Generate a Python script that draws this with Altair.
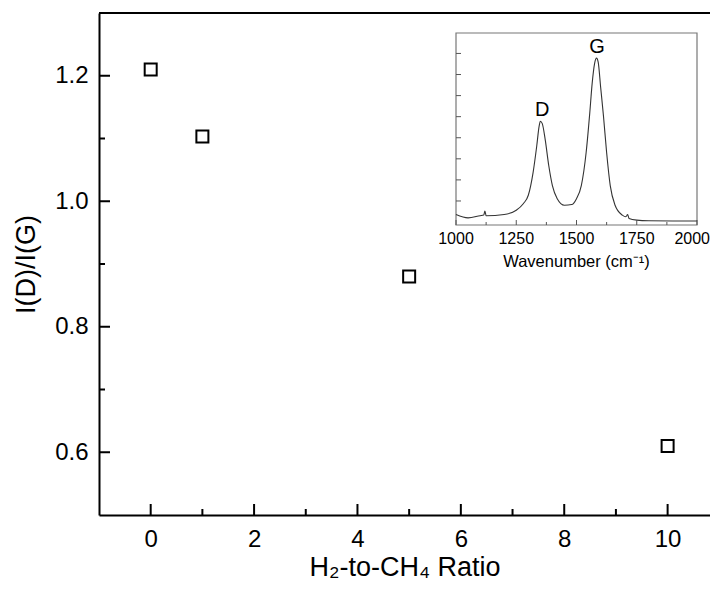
import altair as alt
import pandas as pd

# ---------------- data ----------------
RATIO = [0, 1, 5, 10]
ID_IG = [1.21, 1.103, 0.880, 0.610]

X_MAJOR = [0, 2, 4, 6, 8, 10]
X_MINOR = [1, 3, 5, 7, 9]
Y_MAJOR = [0.6, 0.8, 1.0, 1.2]
Y_MINOR = [0.7, 0.9, 1.1]
X_DOMAIN = [-1, 10.82]
Y_DOMAIN = [0.5, 1.3]

# inset Raman spectrum (arbitrary units)
SPEC_WN = [1000, 1050, 1100, 1115, 1120, 1125, 1200, 1250, 1280, 1300,
           1320, 1335, 1345, 1350, 1358, 1370, 1385, 1400, 1420, 1450,
           1480, 1500, 1520, 1540, 1555, 1565, 1575, 1583, 1590, 1600,
           1612, 1625, 1640, 1660, 1690, 1705, 1712, 1718, 1750, 1800,
           1900, 2000]
SPEC_I = [0.36, 0.20, 0.30, 0.33, 0.52, 0.30, 0.36, 0.56, 0.88, 1.27,
          2.36, 3.61, 4.55, 4.78, 4.67, 3.92, 2.67, 1.73, 1.11, 0.80,
          0.83, 1.11, 1.73, 3.30, 5.17, 6.58, 7.52, 7.78, 7.59, 6.42,
          5.02, 3.30, 1.73, 0.80, 0.33, 0.25, 0.36, 0.17, 0.09, 0.06,
          0.05, 0.05]
PEAK_LABELS = ["D", "G"]
PEAK_WN = [1358, 1585]
PEAK_I = [5.33, 8.3]
INSET_X_DOMAIN = [1000, 2000]
INSET_Y_DOMAIN = [-0.14, 8.97]
INSET_X_MAJOR = [1000, 1250, 1500, 1750, 2000]
INSET_X_MINOR = [1125, 1375, 1625, 1875]
INSET_Y_TICKS = [1, 2, 3, 4, 5, 6, 7, 8]

# ---------------- layout ----------------
W, H = 611, 502
FONT = "Liberation Sans"
IX0, IX1 = 357, 598   # inset x pixel range inside plot
IY0, IY1 = 20, 212    # inset y pixel range (top, bottom)


def xs():
    return alt.Scale(domain=X_DOMAIN, nice=False, zero=False)


def ys():
    return alt.Scale(domain=Y_DOMAIN, nice=False, zero=False)


def ixs():
    return alt.Scale(domain=INSET_X_DOMAIN, range=[IX0, IX1], nice=False, zero=False)


def iys():
    return alt.Scale(domain=INSET_Y_DOMAIN, range=[IY1, IY0], nice=False, zero=False)


pts = pd.DataFrame({"ratio": RATIO, "v": ID_IG})
points = alt.Chart(pts).mark_point(
    shape="square", size=144, filled=False, stroke="black", strokeWidth=2, opacity=1
).encode(
    x=alt.X("ratio:Q", scale=xs(), axis=alt.Axis(
        values=X_MAJOR, format="d", title="H₂-to-CH₄ Ratio", tickSize=0,
        labelPadding=12, titleY=52, titleBaseline="middle")),
    y=alt.Y("v:Q", scale=ys(), axis=alt.Axis(
        values=Y_MAJOR, format=".1f", title="I(D)/I(G)", tickSize=0,
        labelPadding=11, titleX=-73, titleY=H / 2, titleAngle=-90,
        titleAlign="center", titleBaseline="middle")),
)


def xticks(vals, length):
    return alt.Chart(pd.DataFrame({"t": vals})).mark_rule(color="black", strokeWidth=2).encode(
        x=alt.X("t:Q", scale=xs(), axis=None),
        y=alt.value(H), y2=alt.value(H - length))


def yticks(vals, length):
    return alt.Chart(pd.DataFrame({"t": vals})).mark_rule(color="black", strokeWidth=2).encode(
        y=alt.Y("t:Q", scale=ys(), axis=None),
        x=alt.value(0), x2=alt.value(length))


top_line = alt.Chart(pd.DataFrame({"a": [0]})).mark_rule(color="black", strokeWidth=2).encode(
    y=alt.value(0), x=alt.value(0), x2=alt.value(W))

# ---------------- inset ----------------
spec = pd.DataFrame({"wn": SPEC_WN, "i": SPEC_I})
line = alt.Chart(spec).mark_line(color="#333333", strokeWidth=1.1, interpolate="monotone").encode(
    x=alt.X("wn:Q", scale=ixs(), axis=None),
    y=alt.Y("i:Q", scale=iys(), axis=None))

frame = alt.Chart(pd.DataFrame({"x0": [INSET_X_DOMAIN[0]], "x1": [INSET_X_DOMAIN[1]],
                                "y0": [INSET_Y_DOMAIN[0]], "y1": [INSET_Y_DOMAIN[1]]})).mark_rect(
    fillOpacity=0, stroke="#777777", strokeWidth=1.2).encode(
    x=alt.X("x0:Q", scale=ixs(), axis=None), x2="x1:Q",
    y=alt.Y("y0:Q", scale=iys(), axis=None), y2="y1:Q")


def ixticks(vals, length):
    return alt.Chart(pd.DataFrame({"t": vals})).mark_rule(color="#555555", strokeWidth=1).encode(
        x=alt.X("t:Q", scale=ixs(), axis=None),
        y=alt.value(IY1), y2=alt.value(IY1 - length))


iyticks = alt.Chart(pd.DataFrame({"t": INSET_Y_TICKS})).mark_rule(color="#555555", strokeWidth=1).encode(
    y=alt.Y("t:Q", scale=iys(), axis=None),
    x=alt.value(IX0), x2=alt.value(IX0 + 5))


def ilabel_layer(vals, align, dx):
    return alt.Chart(pd.DataFrame({"t": vals, "s": [str(v) for v in vals]})).mark_text(
        font=FONT, fontSize=16, color="black", baseline="middle", align=align, dx=dx).encode(
        x=alt.X("t:Q", scale=ixs(), axis=None), y=alt.value(IY1 + 14), text="s:N")


ilabels_main = ilabel_layer(INSET_X_MAJOR[:-1], "center", 0)
ilabels_last = ilabel_layer(INSET_X_MAJOR[-1:], "right", 13)

ititle = alt.Chart(pd.DataFrame({"t": [1500], "s": ["Wavenumber (cm⁻¹)"]})).mark_text(
    font=FONT, fontSize=16.5, color="black", baseline="middle", align="center").encode(
    x=alt.X("t:Q", scale=ixs(), axis=None), y=alt.value(IY1 + 37), text="s:N")

peaks = alt.Chart(pd.DataFrame({"wn": PEAK_WN, "i": PEAK_I, "s": PEAK_LABELS})).mark_text(
    font=FONT, fontSize=20, color="black", baseline="middle", align="center").encode(
    x=alt.X("wn:Q", scale=ixs(), axis=None),
    y=alt.Y("i:Q", scale=iys(), axis=None), text="s:N")

chart = alt.layer(
    points, xticks(X_MAJOR, 11), xticks(X_MINOR, 6),
    yticks(Y_MAJOR, 11), yticks(Y_MINOR, 6), top_line,
    frame, line, ixticks(INSET_X_MAJOR, 5), ixticks(INSET_X_MINOR, 3),
    iyticks, ilabels_main, ilabels_last, ititle, peaks,
).resolve_scale(x="independent", y="independent").properties(
    width=W, height=H,
    autosize=alt.AutoSizeParams(type="none"),
    padding={"left": 91, "top": 5, "right": 0, "bottom": 66},
).configure_view(stroke=None).configure_axis(
    labelFont=FONT, titleFont=FONT, labelFontSize=24, titleFontSize=27,
    labelColor="black", titleColor="black", titleFontWeight="normal",
    domainColor="black", domainWidth=2, grid=False,
)

chart.save("out.html", embed_options={"renderer": "svg", "actions": False})
